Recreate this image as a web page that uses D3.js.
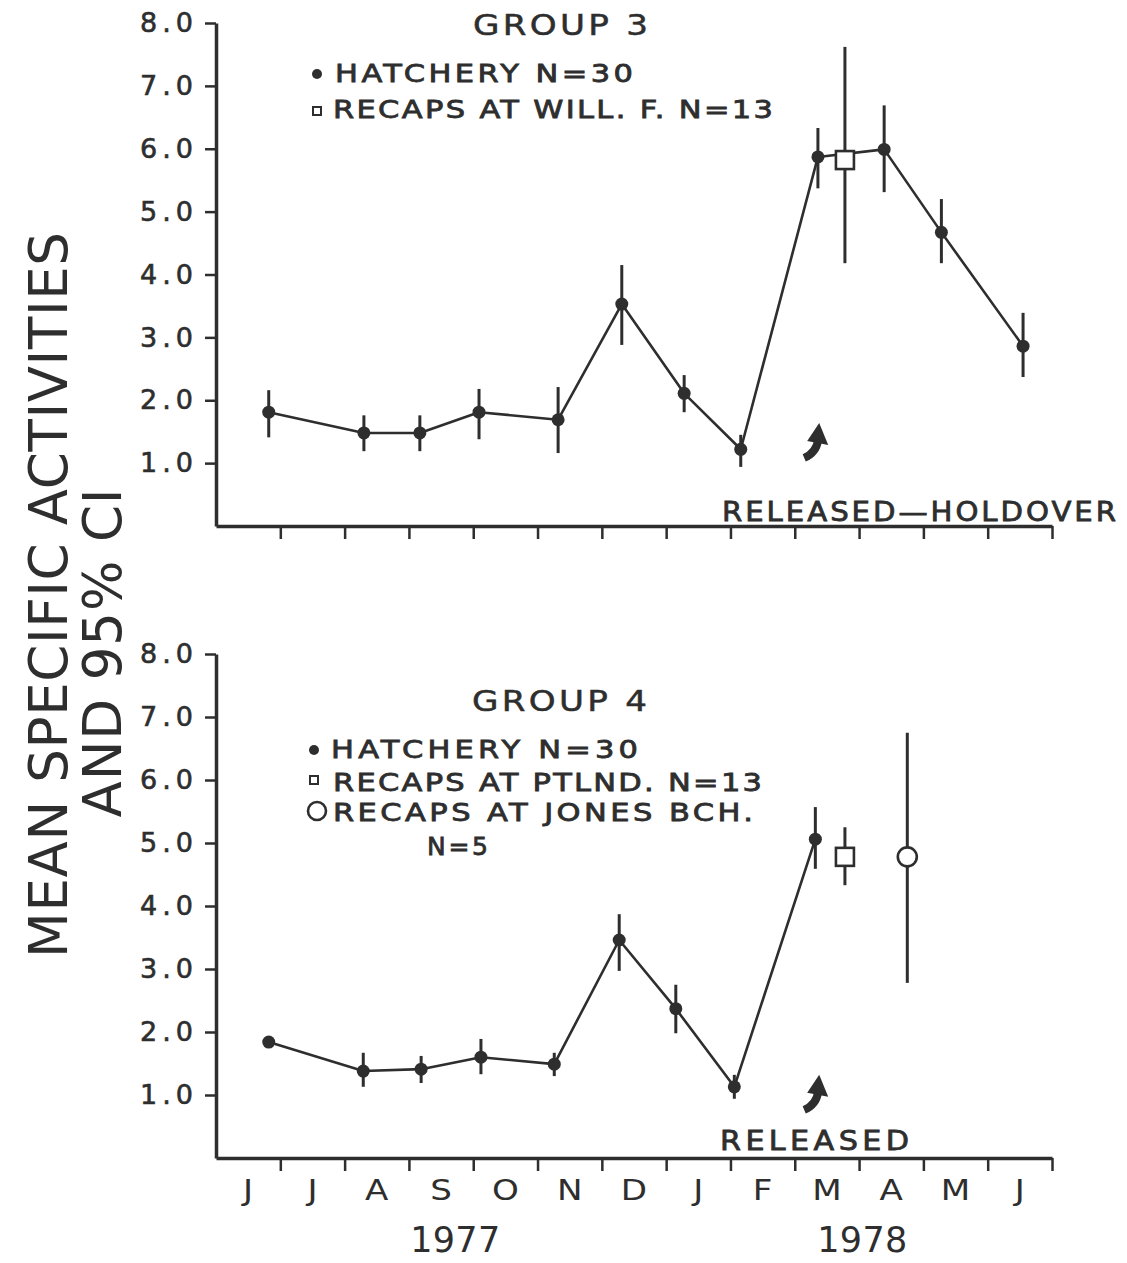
<!DOCTYPE html>
<html>
<head>
<meta charset="utf-8">
<script src="https://cdn.jsdelivr.net/npm/d3@7"></script>
<style>
  body { margin: 0; background: #fff; }
  svg { display: block; background: #fff; }
  text { font-family: "DejaVu Sans", "Liberation Sans", Arial, sans-serif; fill: #2e2e2e; }
</style>
</head>
<body>
<svg id="chart" width="1127" height="1263"></svg>
<script>
// ---------------- DATA ----------------
const monthLabels = ["J","J","A","S","O","N","D","J","F","M","A","M","J"];
const yearLabels = ["1977", "1978"];
const yearLabelMonth = [3.72, 10.05];
const yTickValues = [1, 2, 3, 4, 5, 6, 7, 8];

// Group 3 — hatchery (month position measured from start of June 1977)
const g3HatcheryMonth = [0.82, 2.30, 3.17, 4.09, 5.32, 6.31, 7.28, 8.16, 9.36, 10.39, 11.28, 12.55];
const g3HatcheryMean  = [1.81, 1.48, 1.48, 1.81, 1.69, 3.53, 2.11, 1.22, 5.87, 5.99, 4.67, 2.86];
const g3HatcheryLow   = [1.41, 1.19, 1.19, 1.38, 1.16, 2.88, 1.81, 0.94, 5.37, 5.31, 4.18, 2.37];
const g3HatcheryHigh  = [2.16, 1.76, 1.76, 2.18, 2.21, 4.15, 2.40, 1.45, 6.33, 6.69, 5.20, 3.39];
// Group 3 — recaps at Will. F.
const g3RecapMonth = [9.78];
const g3RecapMean  = [5.82];
const g3RecapLow   = [4.18];
const g3RecapHigh  = [7.62];

// Group 4 — hatchery
const g4HatcheryMonth = [0.82, 2.29, 3.19, 4.12, 5.26, 6.27, 7.15, 8.06, 9.32];
const g4HatcheryMean  = [1.84, 1.38, 1.41, 1.60, 1.49, 3.46, 2.37, 1.13, 5.06];
const g4HatcheryLow   = [1.84, 1.13, 1.19, 1.33, 1.30, 2.97, 1.98, 0.94, 4.59];
const g4HatcheryHigh  = [1.84, 1.67, 1.62, 1.89, 1.67, 3.87, 2.75, 1.32, 5.57];
// Group 4 — recaps at Ptlnd.
const g4PtlndMonth = [9.78];
const g4PtlndMean  = [4.78];
const g4PtlndLow   = [4.33];
const g4PtlndHigh  = [5.25];
// Group 4 — recaps at Jones Bch.
const g4JonesMonth = [10.75];
const g4JonesMean  = [4.78];
const g4JonesLow   = [2.78];
const g4JonesHigh  = [6.75];

// Release arrows (month, value of arrow tip)
const releaseMonth = 9.38;
const g3ArrowValue = 1.64;
const g4ArrowValue = 1.32;

// ---------------- DRAWING ----------------
const ink = "#2e2e2e";
const svg = d3.select("#chart");

const x = d3.scaleLinear().domain([0, 13]).range([216, 1052]);

function zip(m, v, lo, hi) {
  return m.map((d, i) => ({ m: d, v: v[i], lo: lo[i], hi: hi[i] }));
}

// widened lettering text
function letter(parent, xp, yp, str, size, len, opts) {
  opts = opts || {};
  const sx = opts.sx || 1.22;
  const t = parent.append("text")
    .attr("transform", `translate(${xp},${yp}) scale(${sx},1)`)
    .attr("text-anchor", opts.anchor || "start")
    .style("font-size", size + "px")
    .text(str);
  if (len) t.attr("textLength", len / sx).attr("lengthAdjust", "spacing");
  if (opts.bold) t.attr("stroke", ink).attr("stroke-width", opts.bold);
  return t;
}

const panels = [
  {
    yRange: [526, 23],
    title: "GROUP 3",
    titlePos: [473, 35, 175],
    hatch: zip(g3HatcheryMonth, g3HatcheryMean, g3HatcheryLow, g3HatcheryHigh),
    squares: zip(g3RecapMonth, g3RecapMean, g3RecapLow, g3RecapHigh),
    circles: [],
    arrowValue: g3ArrowValue,
    monthAxisLabels: false
  },
  {
    yRange: [1158, 654],
    title: "GROUP 4",
    titlePos: [472, 711, 175],
    hatch: zip(g4HatcheryMonth, g4HatcheryMean, g4HatcheryLow, g4HatcheryHigh),
    squares: zip(g4PtlndMonth, g4PtlndMean, g4PtlndLow, g4PtlndHigh),
    circles: zip(g4JonesMonth, g4JonesMean, g4JonesLow, g4JonesHigh),
    arrowValue: g4ArrowValue,
    monthAxisLabels: true
  }
];

panels.forEach(p => {
  const y = d3.scaleLinear().domain([0, 8]).range(p.yRange);
  const g = svg.append("g");

  // y axis
  const ya = g.append("g")
    .attr("transform", `translate(${x(0)},0)`)
    .call(d3.axisLeft(y).tickValues(yTickValues).tickSize(11).tickSizeOuter(0)
      .tickPadding(12).tickFormat(d3.format(".1f")));
  ya.attr("font-family", null).attr("font-size", null);
  ya.select(".domain").attr("stroke", ink).attr("stroke-width", 3.5);
  ya.selectAll(".tick line").attr("stroke", ink).attr("stroke-width", 2.5);
  ya.selectAll(".tick text")
    .attr("fill", ink)
    .attr("stroke", ink).attr("stroke-width", 0.6)
    .style("font-size", "27px")
    .attr("textLength", 53)
    .attr("lengthAdjust", "spacing");

  // x axis
  const xa = g.append("g")
    .attr("transform", `translate(0,${y(0)})`)
    .call(d3.axisBottom(x).tickValues(d3.range(1, 14)).tickSize(13).tickSizeOuter(0).tickFormat(""));
  xa.select(".domain").attr("stroke", ink).attr("stroke-width", 3.5);
  xa.selectAll(".tick line").attr("stroke", ink).attr("stroke-width", 2.5);

  // hatchery line
  g.append("path")
    .datum(p.hatch)
    .attr("fill", "none")
    .attr("stroke", ink)
    .attr("stroke-width", 2.6)
    .attr("stroke-linejoin", "round")
    .attr("d", d3.line().x(d => x(d.m)).y(d => y(d.v)));

  const all = p.hatch.concat(p.squares, p.circles);
  // error bars
  g.selectAll(".err").data(all.filter(d => d.hi > d.lo)).enter().append("line")
    .attr("x1", d => x(d.m)).attr("x2", d => x(d.m))
    .attr("y1", d => y(d.hi)).attr("y2", d => y(d.lo))
    .attr("stroke", ink).attr("stroke-width", 3);

  // hatchery dots
  g.selectAll(".dot").data(p.hatch).enter().append("circle")
    .attr("cx", d => x(d.m)).attr("cy", d => y(d.v)).attr("r", 6.5)
    .attr("fill", ink);

  // square recaps
  g.selectAll(".sq").data(p.squares).enter().append("rect")
    .attr("x", d => x(d.m) - 9).attr("y", d => y(d.v) - 9)
    .attr("width", 18).attr("height", 18)
    .attr("fill", "#fff").attr("stroke", ink).attr("stroke-width", 2.6);

  // circle recaps
  g.selectAll(".ci").data(p.circles).enter().append("circle")
    .attr("cx", d => x(d.m)).attr("cy", d => y(d.v)).attr("r", 9.5)
    .attr("fill", "#fff").attr("stroke", ink).attr("stroke-width", 2.6);

  // release arrow
  const tx = x(releaseMonth), ty = y(p.arrowValue);
  const ag = g.append("g").attr("transform", `translate(${tx},${ty})`);
  ag.append("path")
    .attr("d", "M0,0 L-12,18 L9,22 Z")
    .attr("fill", ink);
  ag.append("path")
    .attr("d", "M-1,17 Q-3,30 -15,35")
    .attr("fill", "none").attr("stroke", ink).attr("stroke-width", 8);

  // title
  letter(g, p.titlePos[0], p.titlePos[1], p.title, 28, p.titlePos[2], { bold: 0.5 });

  if (p.monthAxisLabels) {
    monthLabels.forEach((m, i) => {
      letter(g, x(i + 0.5), 1200, m, 28, null, { anchor: "middle" });
    });
    yearLabels.forEach((yr, i) => {
      g.append("text")
        .attr("x", x(yearLabelMonth[i])).attr("y", 1252)
        .attr("text-anchor", "middle")
        .attr("textLength", 90).attr("lengthAdjust", "spacing")
        .style("font-size", "35px")
        .text(yr);
    });
  }
});

// legends
function legendText(xp, yp, len, str, size, sx) {
  letter(svg, xp, yp, str, size || 25, len, { bold: 0.8, sx: sx });
}
// group 3
svg.append("circle").attr("cx", 317).attr("cy", 74).attr("r", 5).attr("fill", ink);
legendText(335, 82, 298, "HATCHERY  N=30");
svg.append("rect").attr("x", 313).attr("y", 107).attr("width", 8).attr("height", 8)
  .attr("fill", "#fff").attr("stroke", ink).attr("stroke-width", 2);
legendText(333, 118, 440, "RECAPS AT WILL. F. N=13");
// group 4
svg.append("circle").attr("cx", 314).attr("cy", 750).attr("r", 5).attr("fill", ink);
legendText(331, 758, 307, "HATCHERY  N=30");
svg.append("rect").attr("x", 310).attr("y", 776).attr("width", 8).attr("height", 8)
  .attr("fill", "#fff").attr("stroke", ink).attr("stroke-width", 2);
legendText(333, 791, 429, "RECAPS AT PTLND. N=13");
svg.append("circle").attr("cx", 317).attr("cy", 811).attr("r", 9)
  .attr("fill", "#fff").attr("stroke", ink).attr("stroke-width", 2.6);
legendText(333, 821, 420, "RECAPS AT JONES BCH.");
legendText(427, 855, 61, "N=5", 25, 1.0);

// release annotations
legendText(722, 521, 394, "RELEASED\u2014HOLDOVER", 27, 1.08);
legendText(720, 1150, 189, "RELEASED", 27, 1.12);

// y-axis title
svg.append("text")
  .attr("transform", "translate(67,595) rotate(-90)")
  .attr("text-anchor", "middle")
  .attr("textLength", 726).attr("lengthAdjust", "spacing")
  .style("font-size", "53px")
  .text("MEAN SPECIFIC ACTIVITIES");
svg.append("text")
  .attr("transform", "translate(121,653) rotate(-90)")
  .attr("text-anchor", "middle")
  .attr("textLength", 329).attr("lengthAdjust", "spacing")
  .style("font-size", "53px")
  .text("AND 95% CI");
</script>
</body>
</html>
